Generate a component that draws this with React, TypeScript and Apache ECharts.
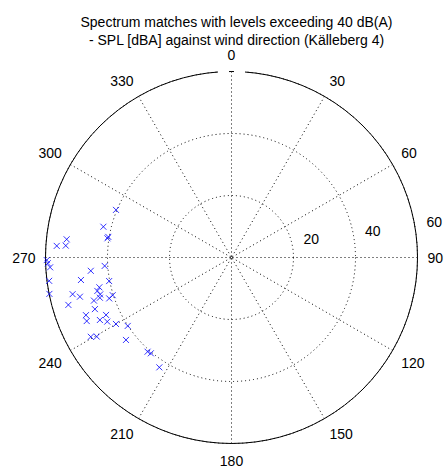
import React, { useEffect, useRef } from "react";
import * as echarts from "echarts";

// Wind direction (degrees, clockwise from north) for each spectrum match
const windDirection = [
  292.4, 283.5, 278.8, 279.5, 276.3, 274.1, 273.8, 269.2, 268.2, 266.9,
  264.6, 266.2, 261.5, 259.1, 262.7, 257.3, 256.0, 257.0, 255.5, 258.7,
  253.0, 251.5, 252.4, 252.6, 254.3, 253.8, 249.3, 248.4, 246.3, 244.6,
  245.4, 242.7, 240.1, 236.6, 232.0, 240.6, 239.6, 221.7, 220.1, 213.3,
];
// SPL [dBA] for each match
const splLevel = [
  40.3, 42.5, 40.5, 40.3, 53.5, 53.6, 56.5, 59.6, 59.3, 58.6,
  45.6, 41.0, 49.1, 40.2, 59.3, 43.7, 44.6, 52.6, 50.5, 59.9,
  44.4, 41.6, 40.2, 46.5, 44.0, 54.8, 47.1, 50.5, 51.0, 47.0,
  44.5, 45.1, 43.0, 40.1, 43.2, 52.1, 50.4, 40.7, 40.4, 42.4,
];
const angleTicks = [0, 30, 60, 90, 120, 150, 180, 210, 240, 270, 300, 330];
const radialTicks = [20, 40, 60];
const titleLines = [
  "Spectrum matches with levels exceeding 40 dB(A)",
  "- SPL [dBA] against wind direction (Källeberg 4)",
];

const FONT = '"Liberation Sans", Arial, Helvetica, sans-serif';

export default function App() {
  const ref = useRef<HTMLDivElement>(null);
  useEffect(() => {
    if (!ref.current) return;
    const chart = echarts.init(ref.current, undefined, { renderer: "svg" });
    const CX = 231.5;
    const CY = 257.5;
    const R = 186;
    const RMAX = radialTicks[radialTicks.length - 1];
    const lblAng = (7.6 * Math.PI) / 180;
    const data = windDirection.map((a, i) => [splLevel[i], a]);
    chart.setOption({
      animation: false,
      backgroundColor: "#fff",
      title: {
        text: titleLines.join("\n"),
        left: 231.5,
        top: 8,
        textAlign: "center",
        textStyle: {
          fontFamily: FONT,
          fontSize: 14,
          fontWeight: "normal",
          color: "#000",
          lineHeight: 18,
        },
      },
      polar: { center: [CX, CY], radius: R },
      angleAxis: {
        type: "value",
        min: 0,
        max: 360,
        interval: 30,
        startAngle: 90,
        clockwise: true,
        axisLine: { show: true, lineStyle: { color: "#000", width: 1 } },
        axisTick: { show: false },
        axisLabel: {
          margin: 10,
          fontFamily: FONT,
          fontSize: 14,
          color: "#000",
          formatter: (v: number) => (angleTicks.includes(v) ? String(v) : ""),
        },
        splitLine: {
          show: true,
          lineStyle: { color: "#000", width: 1, type: [1, 3] },
        },
      },
      radiusAxis: {
        type: "value",
        min: 0,
        max: RMAX,
        interval: 20,
        axisLine: { show: false },
        axisTick: { show: false },
        axisLabel: { show: false },
        splitLine: {
          show: true,
          lineStyle: { color: "#000", width: 1, type: [1, 3] },
        },
      },
      graphic: [
        ...radialTicks.map((v) => {
          const rp = ((v + 1) / RMAX) * R;
          return {
            type: "text",
            x: CX + rp * Math.cos(lblAng) + 7.5,
            y: CY - rp * Math.sin(lblAng) - 10,
            z: 10,
            style: {
              text: String(v),
              font: `14px ${FONT}`,
              fill: "#000",
              textAlign: "left",
              textVerticalAlign: "middle",
            },
          };
        }),
        { type: "rect", shape: { x: 218, y: 68, width: 11, height: 6 }, style: { fill: "#fff" }, z: 10 },
        { type: "rect", shape: { x: 234, y: 68, width: 11, height: 6 }, style: { fill: "#fff" }, z: 10 },
      ],
      series: [
        {
          type: "scatter",
          coordinateSystem: "polar",
          data,
          symbol: "path://M0,0L10,10M10,0L0,10",
          symbolSize: 6,
          itemStyle: { color: "transparent", borderColor: "#0000ff", borderWidth: 1 },
          z: 5,
        },
      ],
    });
    return () => chart.dispose();
  }, []);
  return (
    <div
      ref={ref}
      style={{ position: "fixed", left: 0, top: 0, width: 444, height: 473 }}
    />
  );
}
